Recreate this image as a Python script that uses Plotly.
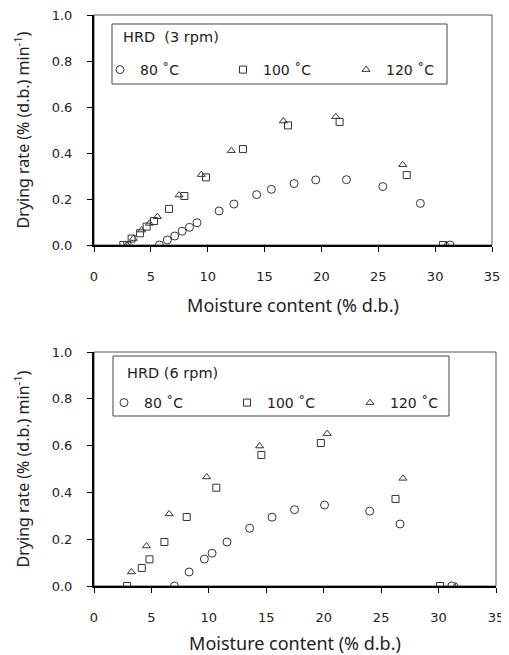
import plotly.graph_objects as go

# HRD 3 rpm
mc_80_3 = [5.75, 6.45, 7.1, 7.75, 8.4, 9.06, 11.0, 12.3, 14.3, 15.6, 17.6, 19.5, 22.2, 25.4, 28.7, 31.3]
dr_80_3 = [0.0, 0.022, 0.039, 0.06, 0.077, 0.097, 0.148, 0.178, 0.219, 0.242, 0.267, 0.283, 0.284, 0.254, 0.181, 0.0]
mc_100_3 = [2.58, 2.93, 3.31, 4.05, 4.63, 5.28, 6.6, 7.95, 9.85, 13.1, 17.06, 21.6, 27.5, 30.7]
dr_100_3 = [0.0, 0.0, 0.028, 0.051, 0.08, 0.104, 0.157, 0.213, 0.294, 0.417, 0.52, 0.535, 0.304, 0.0]
mc_120_3 = [2.9, 3.46, 4.19, 4.87, 5.57, 7.48, 9.44, 12.08, 16.65, 21.26, 27.15, 31.0]
dr_120_3 = [0.0, 0.028, 0.065, 0.094, 0.123, 0.217, 0.306, 0.41, 0.539, 0.558, 0.349, 0.0]

# HRD 6 rpm
mc_80_6 = [7.0, 8.28, 9.61, 10.28, 11.58, 13.55, 15.5, 17.46, 20.07, 24.0, 26.65, 31.15]
dr_80_6 = [0.0, 0.06, 0.115, 0.14, 0.188, 0.247, 0.294, 0.326, 0.346, 0.32, 0.265, 0.0]
mc_100_6 = [2.88, 4.16, 4.83, 6.13, 8.07, 10.65, 14.57, 19.75, 26.25, 30.13]
dr_100_6 = [0.0, 0.077, 0.114, 0.188, 0.295, 0.42, 0.56, 0.611, 0.372, 0.0]
mc_120_6 = [3.26, 4.57, 6.54, 9.81, 14.42, 20.3, 26.9, 31.5]
dr_120_6 = [0.06, 0.171, 0.308, 0.466, 0.598, 0.651, 0.46, 0.0]

temps = ['80 ˚C', '100 ˚C', '120 ˚C']
TICK_FONT = 'DejaVu Sans'
TITLE_FONT = 'Noto Sans'
INK = '#333333'
TXT = '#222222'

# page body has an 8px margin, so the figure is drawn 8px in from the window edge
PAD = 8
W, H = 509 - PAD, 655 - PAD


def px(x):
    return (x - PAD) / W


def py(y):
    return (H - (y - PAD)) / H


symbols = ['circle-open', 'square-open', 'triangle-up-open']
sizes = [8, 7, 7]

fig = go.Figure()

panels = [
    ('x', 'y', 'legend', [(mc_80_3, dr_80_3), (mc_100_3, dr_100_3), (mc_120_3, dr_120_3)]),
    ('x2', 'y2', 'legend2', [(mc_80_6, dr_80_6), (mc_100_6, dr_100_6), (mc_120_6, dr_120_6)]),
]
for xa, ya, leg, series in panels:
    for i, (xs, ys) in enumerate(series):
        fig.add_trace(go.Scatter(
            x=xs, y=ys, mode='markers', name=temps[i],
            xaxis=xa, yaxis=ya, legend=leg,
            marker=dict(symbol=symbols[i], size=sizes[i], color=INK,
                        line=dict(width=1, color=INK)),
        ))

axis_common = dict(
    showline=True, linecolor='black', linewidth=2,
    ticks='outside', ticklen=5, tickwidth=1, tickcolor='black',
    showgrid=False, zeroline=False, automargin=False,
    ticklabeloverflow='allow',
    tickfont=dict(family=TICK_FONT, size=13, color=TXT),
)

xtitle = dict(text='Moisture content (% d.b.)', font=dict(family=TITLE_FONT, size=18, color=TXT), standoff=17)
ytitle = dict(text='Drying rate (% (d.b.) min<sup>-1</sup>)', font=dict(family=TITLE_FONT, size=16, color=TXT), standoff=18)

legend_common = dict(
    orientation='h', xanchor='left', yanchor='middle',
    borderwidth=0, bgcolor='rgba(0,0,0,0)',
    entrywidth=78, font=dict(family=TICK_FONT, size=14, color=TXT),
)

fig.update_layout(
    width=W, height=H,
    margin=dict(l=0, r=0, t=0, b=0, autoexpand=False),
    paper_bgcolor='white', plot_bgcolor='white',
    font=dict(family=TICK_FONT, size=13, color=TXT),
    xaxis=dict(domain=[px(94), px(492)], range=[0, 35], dtick=5, anchor='y',
               title=xtitle, ticklabelstandoff=13, **axis_common),
    yaxis=dict(domain=[py(245), py(15)], range=[0, 1.0], dtick=0.2, tickformat='.1f', anchor='x',
               title=ytitle, ticklabelstandoff=12, **axis_common),
    xaxis2=dict(domain=[px(94), px(496)], range=[0, 35], dtick=5, anchor='y2',
                title=xtitle, ticklabelstandoff=13, **axis_common),
    yaxis2=dict(domain=[py(586), py(352)], range=[0, 1.0], dtick=0.2, tickformat='.1f', anchor='x2',
                title=ytitle, ticklabelstandoff=12, **axis_common),
    legend=dict(x=px(100), y=py(70), **legend_common),
    legend2=dict(x=px(104), y=py(403), **legend_common),
    showlegend=True,
)

# legend frames and headings
boxes = [
    (112, 447, 24, 84, 'HRD  (3 rpm)', 121, 37),
    (113, 449, 356, 416, 'HRD (6 rpm)', 125, 373),
]
for x0, x1, y0, y1, label, tx, ty in boxes:
    fig.add_shape(type='rect', xref='paper', yref='paper',
                  x0=px(x0), x1=px(x1), y0=py(y1), y1=py(y0),
                  line=dict(color='#444', width=1), fillcolor='white', layer='below')
    fig.add_annotation(text=label, xref='paper', yref='paper', x=px(tx), y=py(ty),
                       xanchor='left', yanchor='middle', showarrow=False,
                       font=dict(family=TICK_FONT, size=14.5, color=TXT))

for xr, yr in [('x domain', 'y domain'), ('x2 domain', 'y2 domain')]:
    fig.add_shape(type='rect', xref=xr, yref=yr, x0=0, x1=1, y0=0, y1=1,
                  line=dict(color='#555', width=1), layer='below')

fig.write_html('out.html')
